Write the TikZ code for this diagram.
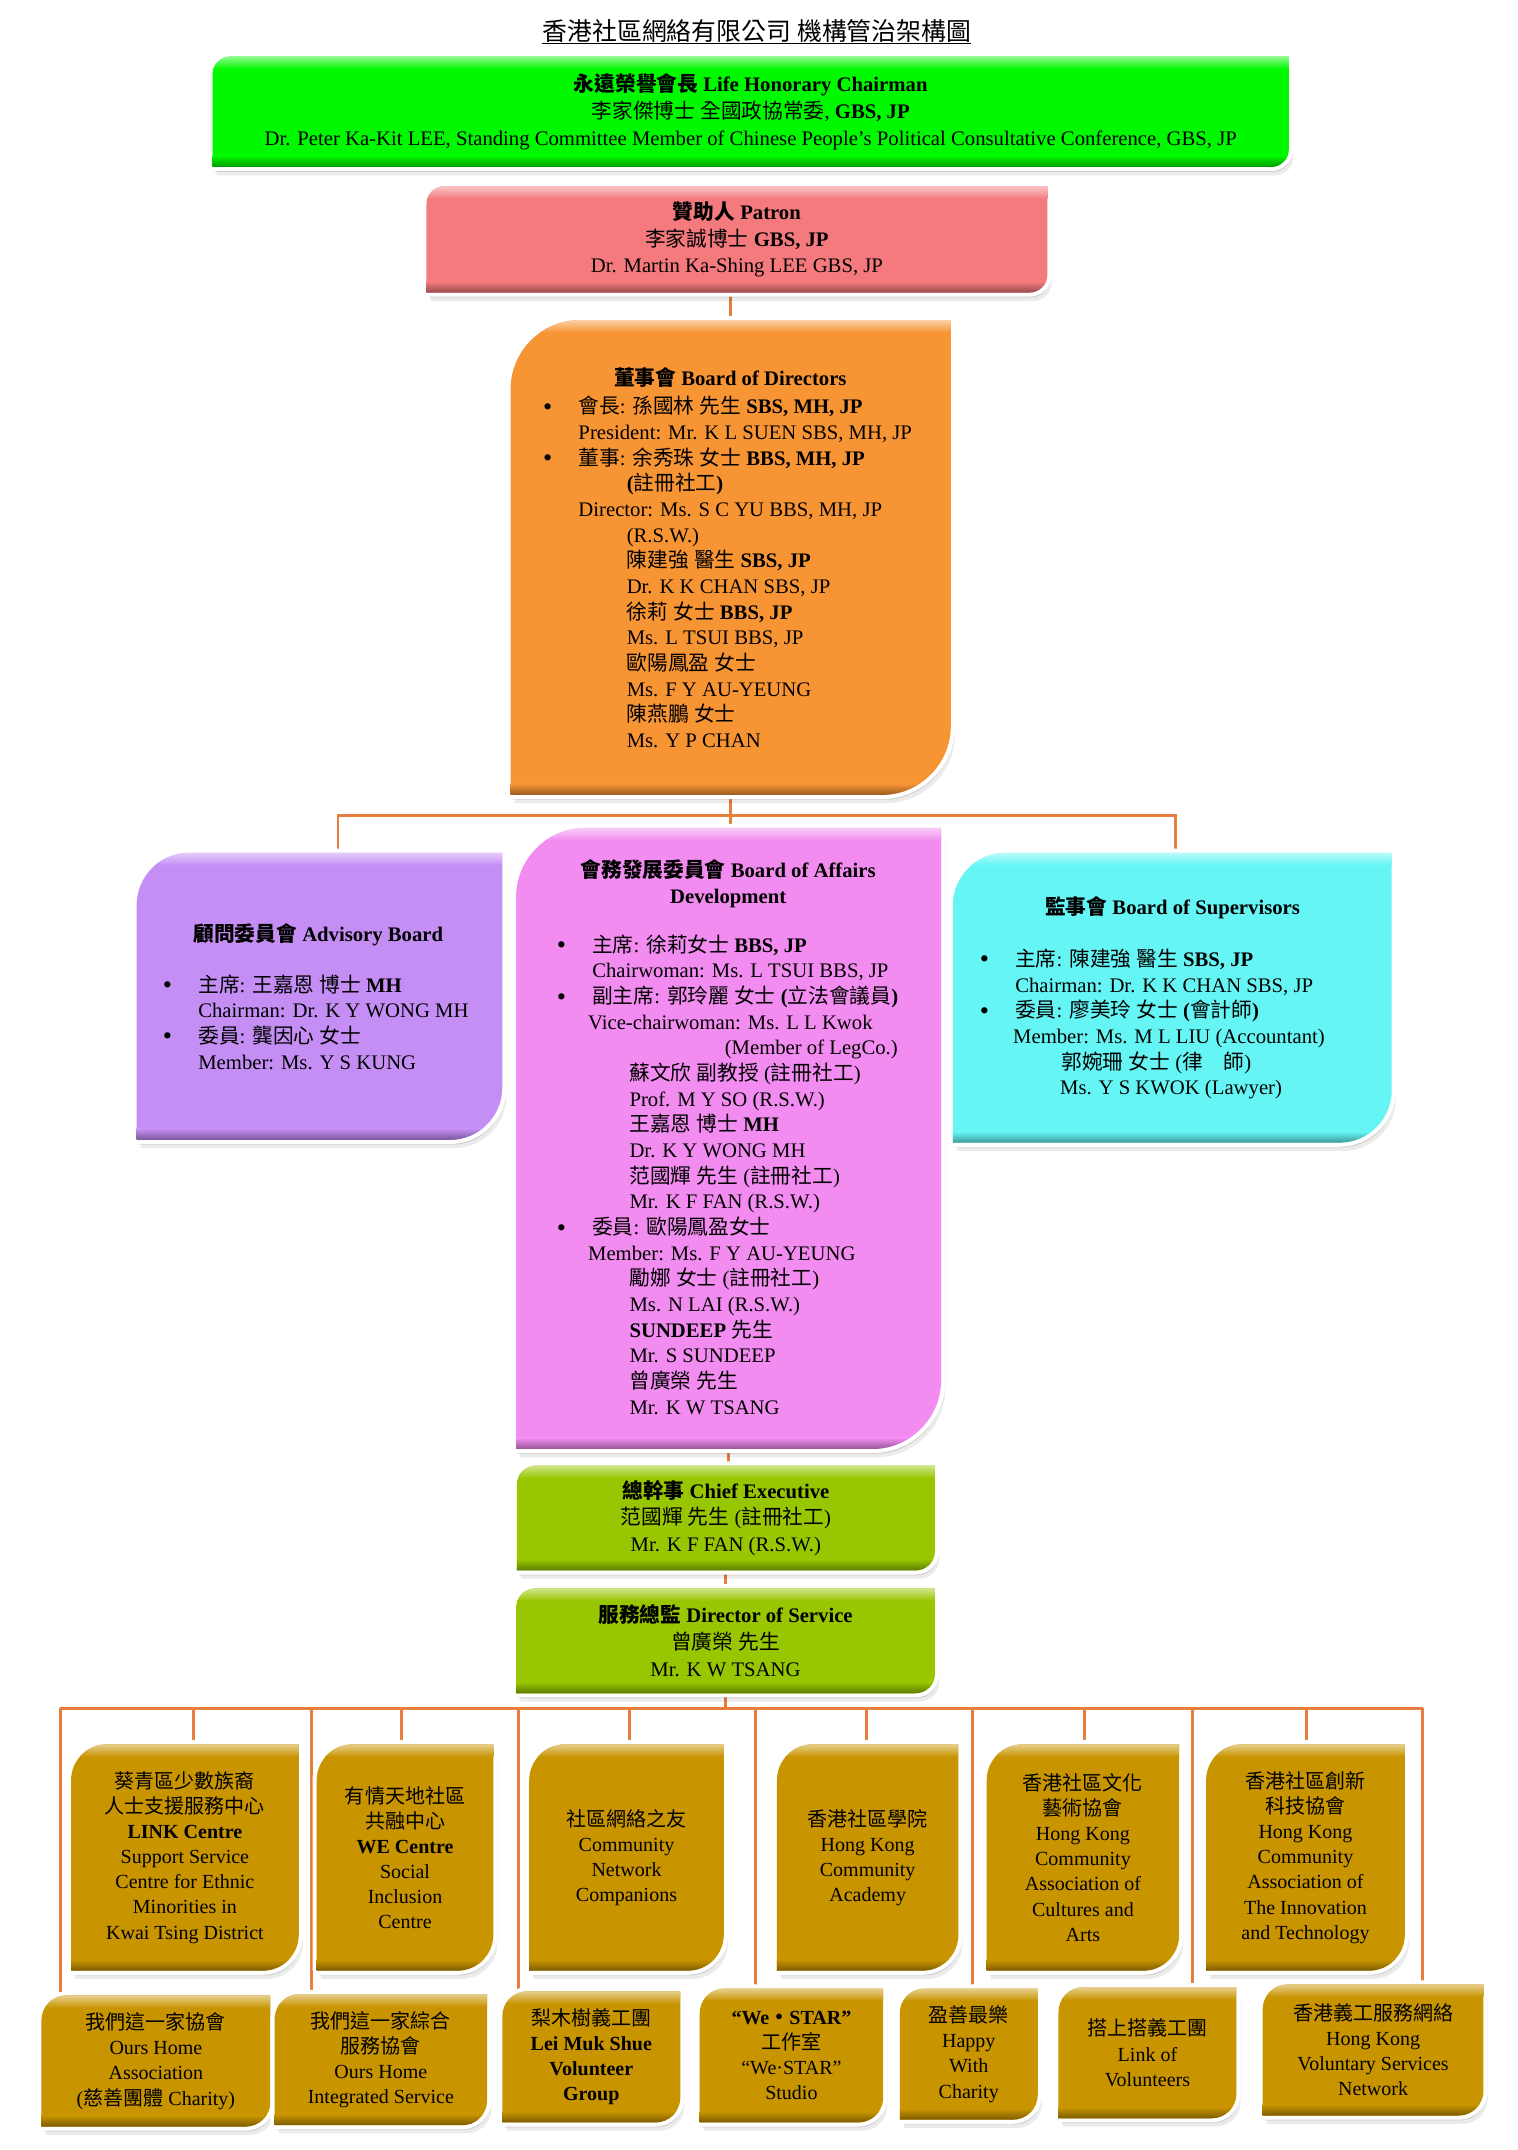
\documentclass[tikz,border=0pt]{standalone}
\usepackage{fontspec}
\setmainfont{Liberation Serif}
\newfontfamily\cjk{Noto Sans CJK TC}
\usetikzlibrary{calc}
% automatic switch to the CJK family for Han characters
\XeTeXinterchartokenstate=1
\newcount\zhc
\zhc="2E80 \loop \XeTeXcharclass\zhc=7 \advance\zhc by 1 \ifnum\zhc<"A000 \repeat
\zhc="FF00 \loop \XeTeXcharclass\zhc=7 \advance\zhc by 1 \ifnum\zhc<"FFF0 \repeat
\XeTeXcharclass"201C=0 \XeTeXcharclass"201D=0 \XeTeXcharclass"2018=0 \XeTeXcharclass"2019=0
\XeTeXcharclass"00B7=0 \XeTeXcharclass"2022=0
\XeTeXinterchartoks 0 7 = {\cjk}
\XeTeXinterchartoks 4095 7 = {\cjk}
\XeTeXinterchartoks 7 0 = {\rmfamily}
\XeTeXinterchartoks 7 4095 = {\rmfamily}

\definecolor{cGreen}{HTML}{00F800}
\definecolor{cPatron}{HTML}{F47A7E}
\definecolor{cOrange}{HTML}{F79434}
\definecolor{cAdv}{HTML}{C48EF4}
\definecolor{cAff}{HTML}{F28CF0}
\definecolor{cSup}{HTML}{66F5F5}
\definecolor{cExec}{HTML}{98C600}
\definecolor{cGold}{HTML}{C89400}
\definecolor{cLine}{HTML}{E87D3C}

\newcommand\fA{\fontsize{15pt}{19.4pt}\selectfont}
\newcommand\fB{\fontsize{15pt}{18.6pt}\selectfont}
\newcommand\fC{\fontsize{14.5pt}{18.2pt}\selectfont}
\newcommand\bul{\llap{\raisebox{-1pt}{\fontsize{19pt}{0pt}\selectfont\textbullet}\hspace{19pt}}}

\pgfdeclarelayer{conn}
\pgfdeclarelayer{shapes}
\pgfsetlayers{conn,shapes,main}

% round diagonal corner rectangle: x1 y1 x2 y2 r
\newcommand\rdpath[5]{({#1+#5},{#2}) -- ({#3},{#2}) -- ({#3},{#4-#5}) .. controls ({#3},{#4-0.448*#5}) and ({#3-0.448*#5},{#4}) .. ({#3-#5},{#4}) -- ({#1},{#4}) -- ({#1},{#2+#5}) .. controls ({#1},{#2+0.448*#5}) and ({#1+0.448*#5},{#2}) .. ({#1+#5},{#2}) -- cycle}

% name x1 y1 x2 y2 r colour
\newcommand\rdbox[7]{%
  \pgfmathsetmacro\bcx{(#2+#4)/2}%
  \pgfmathsetmacro\bcy{(#3+#5)/2}%
  \pgfmathsetmacro\bw{#4-#2}%
  \pgfmathsetmacro\bh{#5-#3}%
  \node[inner sep=0pt, outer sep=0pt, minimum width=\bw pt, minimum height=\bh pt] (#1) at (\bcx,\bcy) {};
  \begin{pgfonlayer}{shapes}
    \fill[black, opacity=0.08, shift={(3,6)}] \rdpath{#2}{#3}{#4}{#5}{#6};
    \fill[black, opacity=0.12, shift={(1.5,3.5)}] \rdpath{#2}{#3}{#4}{#5}{#6};
    \filldraw[white, line width=6pt, line join=round] \rdpath{#2}{#3}{#4}{#5}{#6};
    \fill[#7] \rdpath{#2}{#3}{#4}{#5}{#6};
    \begin{scope}
      \clip \rdpath{#2}{#3}{#4}{#5}{#6};
      \shade[top color=#7!45!white, bottom color=#7] (#2,#3) rectangle (#4,{#3+9});
      \shade[top color=#7, bottom color=#7!62!black] (#2,{#5-8}) rectangle (#4,#5);
    \end{scope}
  \end{pgfonlayer}}

\tikzset{
  wire/.style={draw=cLine, line width=2pt},
  ctxt/.style={inner sep=0pt, align=center, font=\fA},
  btxt/.style={inner sep=0pt, align=left, anchor=west, font=\fB},
  stxt/.style={inner sep=0pt, align=center, font=\fC},
}

\begin{document}
\begin{tikzpicture}[x=1pt, y=-1pt]
\useasboundingbox (0,0) rectangle (1100,1558);
\begin{pgfonlayer}{conn}
  \fill[white] (0,0) rectangle (1100,1558);
\end{pgfonlayer}

% title
\node[inner sep=0pt, anchor=base, font=\fontsize{18pt}{22pt}\selectfont] (title) at (548.5,29) {香港社區網絡有限公司 機構管治架構圖};
\draw[line width=1pt] ([yshift=-2.5pt]title.base west) -- ([yshift=-2.5pt]title.base east);

% top boxes
\rdbox{green}{154}{41}{934}{121}{13}{cGreen}
\node[ctxt] (greentext) at (green.center) {\textbf{永遠榮譽會長 Life Honorary Chairman}\\李家傑博士 全國政協常委, \textbf{GBS, JP}\\Dr. Peter Ka-Kit LEE, Standing Committee Member of Chinese People's Political Consultative Conference, GBS, JP};

\rdbox{patron}{309}{135}{759}{212}{13}{cPatron}
\node[ctxt] (patrontext) at (patron.center) {\textbf{贊助人 Patron}\\李家誠博士 \textbf{GBS, JP}\\Dr. Martin Ka-Shing LEE GBS, JP};

\rdbox{board}{370}{232}{689}{576}{50}{cOrange}
\node[btxt] (boardtext) at (419,404) {\hspace*{110pt}\makebox[0pt]{\bfseries 董事會 Board of Directors}\\[2pt]
\bul 會長: 孫國林 先生 \textbf{SBS, MH, JP}\\
President: Mr. K L SUEN SBS, MH, JP\\
\bul 董事: 余秀珠 女士 \textbf{BBS, MH, JP}\\
\hspace*{35pt}\textbf{(}註冊社工\textbf{)}\\
Director: Ms. S C YU BBS, MH, JP\\
\hspace*{35pt}(R.S.W.)\\
\hspace*{35pt}陳建強 醫生 \textbf{SBS, JP}\\
\hspace*{35pt}Dr. K K CHAN SBS, JP\\
\hspace*{35pt}徐莉 女士 \textbf{BBS, JP}\\
\hspace*{35pt}Ms. L TSUI BBS, JP\\
\hspace*{35pt}歐陽鳳盈 女士\\
\hspace*{35pt}Ms. F Y AU-YEUNG\\
\hspace*{35pt}陳燕鵬 女士\\
\hspace*{35pt}Ms. Y P CHAN};

% three boards
\rdbox{advisory}{99}{618}{364}{826}{38}{cAdv}
\node[btxt] (advisorytext) at (143.5,722) {\hspace*{87pt}\makebox[0pt]{\bfseries 顧問委員會 Advisory Board}\\[18.5pt]
\bul 主席: 王嘉恩 博士 \textbf{MH}\\
Chairman: Dr. K Y WONG MH\\
\bul 委員: 龔因心 女士\\
Member: Ms. Y S KUNG};

\rdbox{affairs}{374}{600}{682}{1050}{50}{cAff}
\node[btxt] (affairstext) at (426,824) {\hspace*{101.5pt}\makebox[0pt]{\bfseries 會務發展委員會 Board of Affairs}\\
\hspace*{101.5pt}\makebox[0pt]{\bfseries Development}\\[17pt]
\hspace*{3pt}\bul 主席: 徐莉女士 \textbf{BBS, JP}\\
\hspace*{3pt}Chairwoman: Ms. L TSUI BBS, JP\\
\hspace*{3pt}\bul 副主席: 郭玲麗 女士 \textbf{(}立法會議員\textbf{)}\\
Vice-chairwoman: Ms. L L Kwok\\
\hspace*{99pt}(Member of LegCo.)\\
\hspace*{30pt}蘇文欣 副教授 (註冊社工)\\
\hspace*{30pt}Prof. M Y SO (R.S.W.)\\
\hspace*{30pt}王嘉恩 博士 \textbf{MH}\\
\hspace*{30pt}Dr. K Y WONG MH\\
\hspace*{30pt}范國輝 先生 (註冊社工)\\
\hspace*{30pt}Mr. K F FAN (R.S.W.)\\
\hspace*{3pt}\bul 委員: 歐陽鳳盈女士\\
Member: Ms. F Y AU-YEUNG\\
\hspace*{30pt}勵娜 女士 (註冊社工)\\
\hspace*{30pt}Ms. N LAI (R.S.W.)\\
\hspace*{30pt}\textbf{SUNDEEP} 先生\\
\hspace*{30pt}Mr. S SUNDEEP\\
\hspace*{30pt}曾廣榮 先生\\
\hspace*{30pt}Mr. K W TSANG};

\rdbox{supervisors}{690.5}{618}{1008.5}{828}{38}{cSup}
\node[btxt] (supervisorstext) at (734,723) {\hspace*{115.5pt}\makebox[0pt]{\bfseries 監事會 Board of Supervisors}\\[19.5pt]
\hspace*{1.5pt}\bul 主席: 陳建強 醫生 \textbf{SBS, JP}\\
\hspace*{1.5pt}Chairman: Dr. K K CHAN SBS, JP\\
\hspace*{1.5pt}\bul 委員: 廖美玲 女士 \textbf{(}會計師\textbf{)}\\
Member: Ms. M L LIU (Accountant)\\
\hspace*{35pt}郭婉珊 女士 (律　師)\\
\hspace*{34pt}Ms. Y S KWOK (Lawyer)};

% executive boxes
\rdbox{chief}{374.5}{1062}{677.5}{1138}{14}{cExec}
\node[ctxt] (chieftext) at (chief.center) {\textbf{總幹事 Chief Executive}\\范國輝 先生 (註冊社工)\\Mr. K F FAN (R.S.W.)};

\rdbox{director}{374}{1151}{677.5}{1227}{14}{cExec}
\node[ctxt] (directortext) at (director.center) {\textbf{服務總監 Director of Service}\\曾廣榮 先生\\Mr. K W TSANG};

% service units, upper row
\rdbox{t1}{51.5}{1264}{216.5}{1428}{26}{cGold}
\node[stxt] (t1text) at (t1.center) {葵青區少數族裔\\人士支援服務中心\\\textbf{LINK Centre}\\Support Service\\Centre for Ethnic\\Minorities in\\Kwai Tsing District};
\rdbox{t2}{229.5}{1264}{357.5}{1428}{26}{cGold}
\node[stxt] (t2text) at (t2.center) {有情天地社區\\共融中心\\\textbf{WE Centre}\\Social\\Inclusion\\Centre};
\rdbox{t3}{383.5}{1264}{524.5}{1428}{26}{cGold}
\node[stxt] (t3text) at (t3.center) {社區網絡之友\\Community\\Network\\Companions};
\rdbox{t4}{563}{1264}{694.5}{1428}{26}{cGold}
\node[stxt] (t4text) at (t4.center) {香港社區學院\\Hong Kong\\Community\\Academy};
\rdbox{t5}{715}{1264}{854.5}{1428}{26}{cGold}
\node[stxt] (t5text) at (t5.center) {香港社區文化\\藝術協會\\Hong Kong\\Community\\Association of\\Cultures and\\Arts};
\rdbox{t6}{874}{1264}{1018}{1428}{26}{cGold}
\node[stxt] (t6text) at (t6.center) {香港社區創新\\科技協會\\Hong Kong\\Community\\Association of\\The Innovation\\and Technology};

% service units, lower row
\rdbox{b1}{30}{1446}{196}{1541}{18}{cGold}
\node[stxt] (b1text) at (b1.center) {我們這一家協會\\Ours Home\\Association\\(慈善團體 Charity)};
\rdbox{b2}{199}{1445}{353}{1540}{18}{cGold}
\node[stxt] (b2text) at (b2.center) {我們這一家綜合\\服務協會\\Ours Home\\Integrated Service};
\rdbox{b3}{364}{1443}{493}{1538}{18}{cGold}
\node[stxt] (b3text) at (b3.center) {梨木樹義工團\\\textbf{Lei Muk Shue}\\\textbf{Volunteer}\\\textbf{Group}};
\rdbox{b4}{507}{1441}{640}{1538}{18}{cGold}
\node[stxt] (b4text) at (b4.center) {\textbf{“We・STAR”}\\工作室\\“We·STAR”\\Studio};
\rdbox{b5}{652}{1441}{752}{1536}{18}{cGold}
\node[stxt] (b5text) at (b5.center) {盈善最樂\\Happy\\With\\Charity};
\rdbox{b6}{767}{1440}{896}{1535}{18}{cGold}
\node[stxt] (b6text) at (b6.center) {搭上搭義工團\\Link of\\Volunteers};
\rdbox{b7}{915}{1438}{1075}{1533}{18}{cGold}
\node[stxt] (b7text) at (b7.center) {香港義工服務網絡\\Hong Kong\\Voluntary Services\\Network};

% connectors
\begin{pgfonlayer}{conn}
  \draw[wire] (board.north) -- (board.north |- patron.south);
  \draw[wire] (board.south) -- (board.south |- affairs.north);
  \coordinate (busL) at (245,591);
  \coordinate (busR) at (852,591);
  \draw[wire] (advisory.north -| busL) -- (busL) -- (busR) -- (supervisors.north -| busR);
  \draw[wire] (affairs.south) -- (affairs.south |- chief.north);
  \draw[wire] (chief.south) -- (chief.south |- director.north);
  \coordinate (bbL) at (43.7,1238);
  \coordinate (bbR) at (1031,1238);
  \draw[wire] (director.south) -- (director.south |- bbL);
  \draw[wire] (bbL) -- (bbR);
  \foreach \vx/\tgt in {140/t1, 291/t2, 456/t3, 628/t4, 786/t5, 947/t6,
                        43.7/b1, 225.5/b2, 375.5/b3, 547.5/b4, 704.5/b5, 864/b6, 1031/b7} {
    \coordinate (v-\tgt) at (\vx,1238);
    \draw[wire] (v-\tgt) -- (\tgt.north -| v-\tgt);
  }
\end{pgfonlayer}
\end{tikzpicture}
\end{document}
